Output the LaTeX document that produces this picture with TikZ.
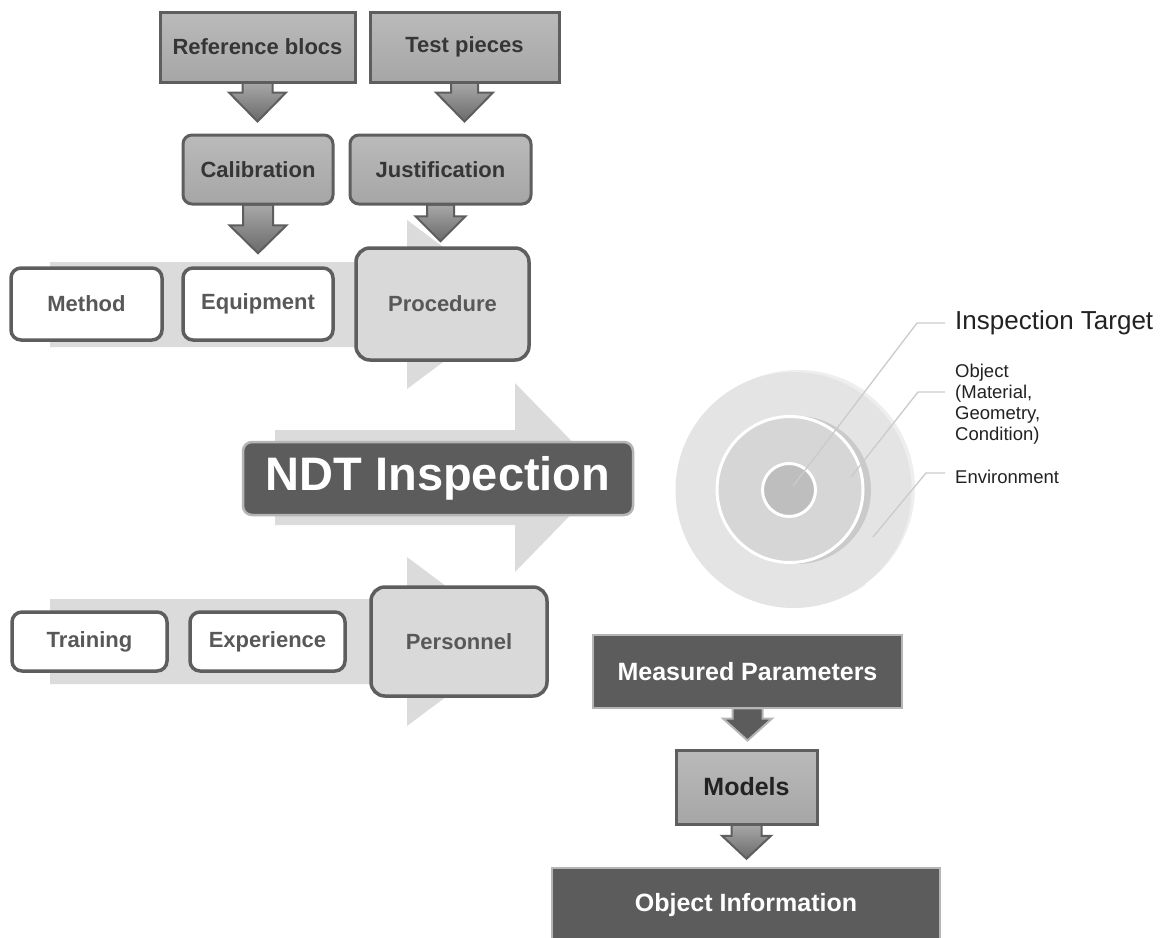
\documentclass[tikz,border=0pt]{standalone}
\usepackage{fontspec}
\setmainfont{Liberation Sans}
\usetikzlibrary{calc}
\pgfdeclarelayer{bandlayer}
\pgfdeclarelayer{arrowlayer}
\pgfsetlayers{bandlayer,arrowlayer,main}
\definecolor{bandgray}{HTML}{DBDBDB}
\definecolor{boxline}{HTML}{5E5E5E}
\definecolor{gradtop}{HTML}{BABABA}
\definecolor{gradbot}{HTML}{A6A6A6}
\definecolor{procfill}{HTML}{D9D9D9}
\definecolor{darkfill}{HTML}{5C5C5C}
\definecolor{darkline}{HTML}{B5B5B5}
\definecolor{txtdark}{HTML}{363636}
\definecolor{txtmid}{HTML}{585858}
\definecolor{leadcol}{HTML}{CBCBCB}
\definecolor{arrtop}{HTML}{A8A8A8}
\definecolor{arrbot}{HTML}{6A6A6A}
\definecolor{outerc}{HTML}{E4E4E4}
\definecolor{outerback}{HTML}{EEEEEE}
\definecolor{midc}{HTML}{D6D6D6}
\definecolor{midshadow}{HTML}{CACACA}
\definecolor{innerc}{HTML}{BEBEBE}
\definecolor{labeltxt}{HTML}{222222}
\newcommand\barrow[7]{%
  \path[#1] let \p1=(#2), \p2=(#3) in
    ({\x1-#5},{\y1+1pt}) -- ({\x1-#5},{\y2+#4+#7}) -- ({\x1-#6},{\y2+#4+#7})
    -- ({\x1},{\y2+#4}) -- ({\x1+#6},{\y2+#4+#7}) -- ({\x1+#5},{\y2+#4+#7})
    -- ({\x1+#5},{\y1+1pt}) -- cycle;}
\tikzset{
  boxfont/.style={font=\fontsize{22}{26}\selectfont\bfseries},
  gradbox/.style={draw=boxline, line width=3pt, top color=gradtop, bottom color=gradbot,
    inner sep=0pt, boxfont, text=txtdark},
  roundgrad/.style={gradbox, rounded corners=9pt},
  whitebox/.style={draw=boxline, line width=3.5pt, fill=white, rounded corners=10pt,
    inner sep=0pt, boxfont, text=txtmid},
  bigbox/.style={draw=boxline, line width=3.5pt, fill=procfill, rounded corners=14pt,
    inner sep=0pt, boxfont, text=txtmid},
  darkbox/.style={draw=darkline, line width=2.5pt, fill=darkfill, text=white,
    inner sep=0pt, font=\fontsize{25}{30}\selectfont\bfseries},
  garrow/.style={draw=boxline, line width=2pt, top color=arrtop, bottom color=arrbot},
  darrow/.style={draw=darkline, line width=2pt, fill=darkfill},
  band/.style={fill=bandgray},
  leaderline/.style={draw=leadcol, line width=1.3pt},
  lbl/.style={inner sep=0pt, text=labeltxt, anchor=west}
}
\begin{document}
\begin{tikzpicture}[x=1pt,y=-1pt]
\useasboundingbox (0,0) rectangle (1167,937);
% background bands (big light arrows)
\begin{pgfonlayer}{bandlayer}
\fill[white] (0,0) rectangle (1167,937);
\fill[band] (50,262) -- (407,262) -- (407,220) -- (520,304.5) -- (407,389) -- (407,347) -- (50,347) -- cycle;
\fill[band] (275,430) -- (515,430) -- (515,383) -- (607,477.5) -- (515,572) -- (515,525) -- (275,525) -- cycle;
\fill[band] (50,599) -- (407,599) -- (407,557) -- (520,641.5) -- (407,726) -- (407,684) -- (50,684) -- cycle;
\end{pgfonlayer}
% top boxes
\node[gradbox, minimum width=195pt, minimum height=70pt] (rb) at (257.5,47) {Reference blocs};
\node[gradbox, minimum width=189pt, minimum height=70pt] (tp) at (464.5,47) {Test pieces};
\node[roundgrad, minimum width=150pt, minimum height=69pt] (cal) at (258,169.5) {Calibration};
\node[roundgrad, minimum width=181pt, minimum height=69pt] (jus) at (440.5,169.5) {Justification};
% row 1
\node[whitebox, minimum width=151pt, minimum height=72pt] (met) at (86.5,304) {Method};
\node[whitebox, minimum width=150pt, minimum height=72pt] (equ) at (258,304) {Equipment};
\node[bigbox, minimum width=173pt, minimum height=112pt] (pro) at (442.5,304) {Procedure};
% NDT
\node[darkbox, rounded corners=9pt, minimum width=390pt, minimum height=73pt,
  font=\fontsize{47}{52}\selectfont\bfseries] (ndt) at (438,478.5) {NDT Inspection};
% row 2
\node[whitebox, minimum width=155pt, minimum height=59pt] (tra) at (89.5,641.5) {Training};
\node[whitebox, minimum width=155pt, minimum height=59pt] (exp) at (267.5,641.5) {Experience};
\node[bigbox, minimum width=176pt, minimum height=109pt] (per) at (459,641.5) {Personnel};
% bottom chain
\node[darkbox, minimum width=309pt, minimum height=73pt] (mp) at (747.5,671.5) {Measured Parameters};
\node[gradbox, text=labeltxt,
  font=\fontsize{25}{30}\selectfont\bfseries, minimum width=141pt, minimum height=74pt] (mod) at (746.5,787) {Models};
\node[darkbox, minimum width=388pt, minimum height=74pt] (oi) at (746,905) {Object Information};
% block arrows
\begin{pgfonlayer}{arrowlayer}
\barrow{garrow}{rb.south}{cal.north}{12pt}{15pt}{28.5pt}{29pt}
\barrow{garrow}{tp.south}{jus.north}{12pt}{13.5pt}{28.5pt}{29pt}
\barrow{garrow}{cal.south}{equ.north}{13pt}{15pt}{28.5pt}{28pt}
\barrow{garrow}{jus.south}{pro.north}{5pt}{13.5pt}{25pt}{25pt}
\barrow{darrow}{mp.south}{mod.north}{8pt}{15pt}{24.5pt}{22pt}
\barrow{garrow}{mod.south}{oi.north}{8pt}{15pt}{24.5pt}{23pt}
\end{pgfonlayer}
% target circles
\fill[outerback] (798,488) circle (118);
\draw[white, line width=2pt] (798,488) ++(-55:118) arc[start angle=-55, end angle=55, radius=118];
\node[circle, fill=outerc, minimum size=236pt, inner sep=0pt] (env) at (793.5,490) {};
\fill[midshadow] (797,490) circle (74);
\node[circle, fill=midc, draw=white, line width=3pt, minimum size=146pt, inner sep=0pt] (obj) at (790,489.5) {};
\node[circle, fill=innerc, draw=white, line width=3pt, minimum size=53pt, inner sep=0pt] (tgt) at (789,490) {};
% labels
\node[lbl, font=\fontsize{26}{30}\selectfont] (lt) at (955,323) {Inspection Target};
\node[lbl, anchor=north west, align=left, font=\fontsize{18.5}{21}\selectfont] (lo) at (955,364) {Object\\(Material,\\Geometry,\\Condition)};
\node[lbl, font=\fontsize{18.5}{21}\selectfont] (le) at (955,477) {Environment};
% leader lines
\coordinate (s1) at (793,486);
\coordinate (k1) at (917,323);
\coordinate (e1) at (945,323);
\coordinate (s2) at (851,477);
\coordinate (k2) at (918,392);
\coordinate (e2) at (945,392);
\coordinate (s3) at (873,537);
\coordinate (k3) at (926,473);
\coordinate (e3) at (945,473);
\draw[leaderline] (s1) -- (k1) -- (e1);
\draw[leaderline] (s2) -- (k2) -- (e2);
\draw[leaderline] (s3) -- (k3) -- (e3);
\end{tikzpicture}
\end{document}
